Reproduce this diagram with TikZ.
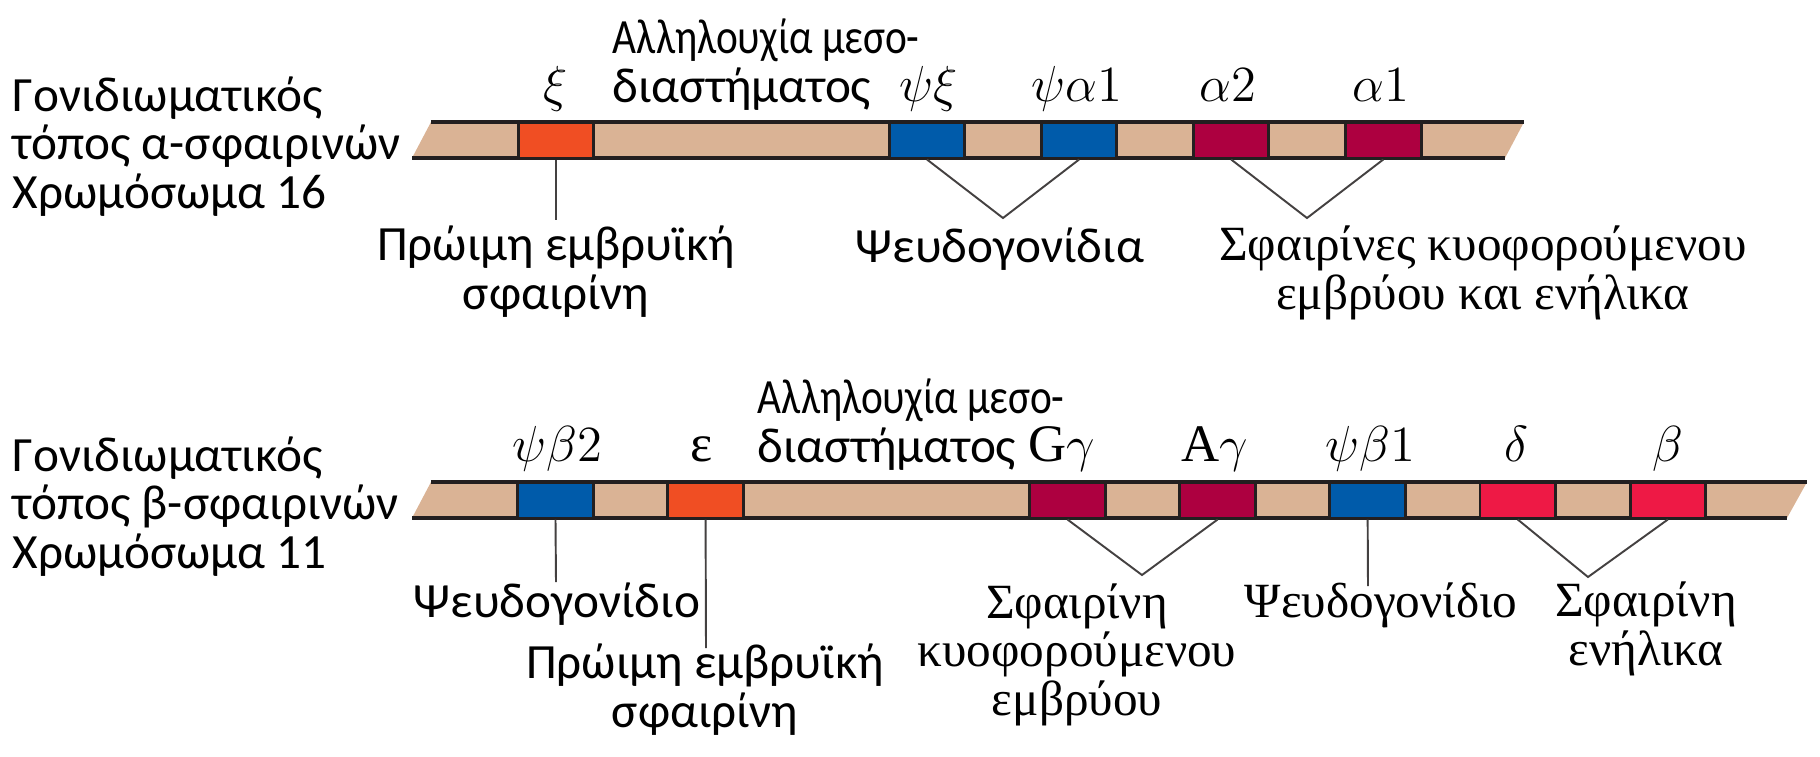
\documentclass[tikz,border=0pt]{standalone}
\usepackage{fontspec}
\setmainfont{Carlito}
\newfontfamily\timesgr{Liberation Serif}
\usetikzlibrary{positioning}

\definecolor{chromtan}{HTML}{DAB395}
\definecolor{genorange}{HTML}{F04E23}
\definecolor{genblue}{HTML}{005BAA}
\definecolor{gencrimson}{HTML}{AD0040}
\definecolor{genred}{HTML}{EE1945}
\definecolor{lineblack}{HTML}{231F20}

\tikzstyle{gene} = [rectangle, minimum width=0.755cm, minimum height=0.36cm, inner sep=0pt, draw=lineblack, line width=0.85pt]
\tikzstyle{edge} = [line width=1.2pt, draw=lineblack]
\tikzstyle{link} = [line width=0.55pt, draw=lineblack!85]
\tikzstyle{note} = [font=\fontsize{14}{13.7}\selectfont, inner sep=0pt, align=center, anchor=base]
\tikzstyle{snote} = [note, font=\timesgr\fontsize{14}{13.7}\selectfont]
\tikzstyle{genename} = [font=\fontsize{15}{15}\selectfont, inner sep=0pt, anchor=base]

\newcommand{\spacerline}{\scalebox{0.84}[1]{Αλληλουχία μεσο-}}

\begin{document}
\begin{tikzpicture}[x=0.01cm, y=-0.01cm, node distance=1.5cm]
        \useasboundingbox (0,0) rectangle (1820,756);

        % alpha-globin locus, chromosome 16
        \fill [chromtan] (431,122) -- (1524,122) -- (1505,158) -- (412,158) -- cycle;
        \draw [edge] (431,122) -- (1524,122);
        \draw [edge] (412,158) -- (1505,158);
        \node (xi) [gene, fill=genorange] at (556,140) {};
        \node (psixi) [gene, fill=genblue] at (927,140) {};
        \node (psia1) [gene, fill=genblue, right of=psixi, xshift=0.02cm] {};
        \node (a2) [gene, fill=gencrimson, right of=psia1, xshift=0.02cm] {};
        \node (a1) [gene, fill=gencrimson, right of=a2, xshift=0.02cm] {};

        % multi-line notes sit on the baseline of their last line
        \node (alocus) [note, align=left, anchor=base west] at (12,208) {Γονιδιωματικός\\τόπος α-σφαιρινών\\Χρωμόσωμα 16};
        \node (aspacer) [note, align=left, anchor=base west] at (612,102) {\spacerline\\διαστήματος};
        \node (lxi) [genename] at (556,101) {$\xi$};
        \node (lpsixi) [genename] at (929,101) {$\psi\xi$};
        \node (lpsia1) [genename] at (1077,101) {$\psi\alpha1$};
        \node (la2) [genename] at (1228,101) {$\alpha2$};
        \node (la1) [genename] at (1381,101) {$\alpha1$};

        \node (xiearly) [note] at (556,309) {Πρώιμη εμβρυϊκή\\σφαιρίνη};
        \node (apseudo) [note] at (1000,262) {Ψευδογονίδια};
        \node (afetal) [snote] at (1483,309) {Σφαιρίνες κυοφορούμενου\\εμβρύου και ενήλικα};

        \coordinate (xitip) at (556,220);
        \coordinate (apsitip) at (1003,218);
        \coordinate (aglotip) at (1307,218);
        \draw [link] (xi.south) -- (xitip);
        \draw [link] (psixi.south) -- (apsitip) -- (psia1.south);
        \draw [link] (a2.south) -- (aglotip) -- (a1.south);

        % beta-globin locus, chromosome 11
        \fill [chromtan] (431,482) -- (1807,482) -- (1787,518) -- (412,518) -- cycle;
        \draw [edge] (431,482) -- (1807,482);
        \draw [edge] (412,518) -- (1787,518);
        \node (psib2) [gene, fill=genblue] at (555.5,500) {};
        \node (eps) [gene, fill=genorange, right of=psib2] {};
        \node (gg) [gene, fill=gencrimson] at (1067.5,500) {};
        \node (ag) [gene, fill=gencrimson, right of=gg] {};
        \node (psib1) [gene, fill=genblue, right of=ag] {};
        \node (delta) [gene, fill=genred, right of=psib1] {};
        \node (beta) [gene, fill=genred, right of=delta] {};

        \node (blocus) [note, align=left, anchor=base west] at (12,568) {Γονιδιωματικός\\τόπος β-σφαιρινών\\Χρωμόσωμα 11};
        \node (bspacer) [note, align=left, anchor=base west] at (757,462) {\spacerline\\διαστήματος};
        \node (lpsib2) [genename] at (557,461) {$\psi\beta2$};
        \node (leps) [genename] at (702,461) {{\timesgr ε}};
        \node (lgg) [genename] at (1062,461) {{\timesgr G}$\gamma$};
        \node (lag) [genename] at (1215,461) {{\timesgr A}$\gamma$};
        \node (lpsib1) [genename] at (1370,461) {$\psi\beta1$};
        \node (ldelta) [genename] at (1516,461) {$\delta$};
        \node (lbeta) [genename] at (1668,461) {$\beta$};

        \node (bpseudo2) [note] at (557,617) {Ψευδογονίδιο};
        \node (epsearly) [note] at (705,727) {Πρώιμη εμβρυϊκή\\σφαιρίνη};
        \node (gfetal) [snote] at (1077,715) {Σφαιρίνη\\κυοφορούμενου\\εμβρύου};
        \node (bpseudo1) [snote] at (1381,617) {Ψευδογονίδιο};
        \node (badult) [snote] at (1646,665) {Σφαιρίνη\\ενήλικα};

        \coordinate (psib2tip) at (556,582);
        \coordinate (epstip) at (706,648);
        \coordinate (gtip) at (1142,575);
        \coordinate (psib1tip) at (1368,586);
        \coordinate (btip) at (1588,577);
        \draw [link] (psib2.south) -- (psib2tip);
        \draw [link] (eps.south) -- (epstip);
        \draw [link] (gg.south) -- (gtip) -- (ag.south);
        \draw [link] (psib1.south) -- (psib1tip);
        \draw [link] (delta.south) -- (btip) -- (beta.south);
    \end{tikzpicture}
\end{document}
